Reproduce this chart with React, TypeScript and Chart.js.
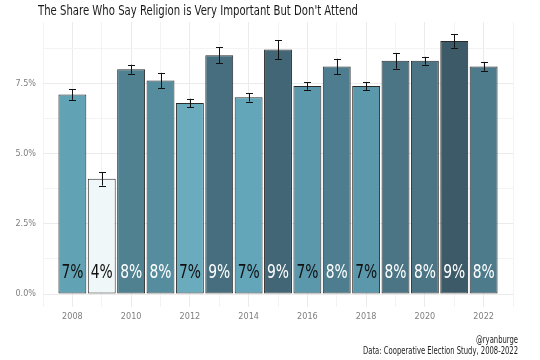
import React, { useEffect, useRef } from "react";
import { Chart, registerables } from "chart.js";

Chart.register(...registerables);

const years = [2008, 2009, 2010, 2011, 2012, 2013, 2014, 2015, 2016, 2017, 2018, 2019, 2020, 2021, 2022];
const shares = [7.1, 4.1, 8.0, 7.6, 6.8, 8.5, 7.0, 8.7, 7.4, 8.1, 7.4, 8.3, 8.3, 9.0, 8.1];
const errors = [0.19, 0.24, 0.16, 0.27, 0.15, 0.28, 0.15, 0.34, 0.13, 0.27, 0.14, 0.28, 0.14, 0.24, 0.16];
const yTickLabels = ["0.0%", "2.5%", "5.0%", "7.5%"];
const titleText = "The Share Who Say Religion is Very Important But Don't Attend";
const captionLines = ["@ryanburge", "Data: Cooperative Election Study, 2008-2022"];

const barColors = [
  "#62a2b5", "#eff7f9", "#4f8191", "#568d9e", "#6aabbd", "#476e7f", "#64a6b9", "#436676",
  "#5b98ab", "#4d7d8e", "#5b98ab", "#4b7585", "#4b7585", "#3d5a69", "#4d7b8c",
];
const labelColors = shares.map((v) => (Math.round(v) >= 8 ? "#ffffff" : "#111111"));

const FONT = '"DejaVu Sans Condensed", "Roboto", sans-serif';

const overlayPlugin = {
  id: "overlay",
  afterDatasetsDraw(chart: any) {
    const { ctx, scales } = chart;
    const xs = scales.x;
    const ys = scales.y;
    ctx.save();
    ctx.strokeStyle = "#111111";
    ctx.lineWidth = 1;
    years.forEach((yr, i) => {
      const x = Math.round(xs.getPixelForValue(yr)) + 0.5;
      const y1 = ys.getPixelForValue(shares[i] + errors[i]);
      const y2 = ys.getPixelForValue(shares[i] - errors[i]);
      ctx.beginPath();
      ctx.moveTo(x, y1);
      ctx.lineTo(x, y2);
      ctx.moveTo(x - 3.5, Math.round(y1) + 0.5);
      ctx.lineTo(x + 3.5, Math.round(y1) + 0.5);
      ctx.moveTo(x - 3.5, Math.round(y2) + 0.5);
      ctx.lineTo(x + 3.5, Math.round(y2) + 0.5);
      ctx.stroke();
    });
    ctx.font = `19px ${FONT}`;
    ctx.textAlign = "center";
    ctx.textBaseline = "middle";
    years.forEach((yr, i) => {
      const x = xs.getPixelForValue(yr);
      ctx.fillStyle = labelColors[i];
      ctx.fillText(`${Math.round(shares[i])}%`, x, ys.getPixelForValue(0) - 21, 22);
    });
    ctx.restore();
  },
  afterDraw(chart: any) {
    const { ctx, width } = chart;
    ctx.save();
    ctx.fillStyle = "#1a1a1a";
    ctx.font = `14px ${FONT}`;
    ctx.textAlign = "left";
    ctx.textBaseline = "middle";
    ctx.fillText(titleText, 38, 11, 320);
    ctx.font = `10px ${FONT}`;
    ctx.textAlign = "right";
    ctx.fillStyle = "#222222";
    ctx.fillText(captionLines[0], width - 22, 340, 42);
    ctx.fillText(captionLines[1], width - 22, 351, 155);
    ctx.restore();
  },
};

export default function App() {
  const ref = useRef<HTMLCanvasElement>(null);
  useEffect(() => {
    if (!ref.current) return;
    const chart = new Chart(ref.current, {
      type: "bar",
      data: {
        datasets: [
          {
            data: years.map((yr, i) => ({ x: yr, y: shares[i] })),
            backgroundColor: barColors,
            borderColor: "#2a2a2a",
            borderWidth: 1,
            borderSkipped: false,
            categoryPercentage: 1,
            barPercentage: 0.95,
          },
        ],
      },
      options: {
        animation: false,
        responsive: false,
        maintainAspectRatio: false,
        layout: { padding: { top: 22, right: 27, bottom: 0, left: 0 } },
        plugins: { legend: { display: false }, tooltip: { enabled: false }, title: { display: false } },
        scales: {
          x: {
            type: "linear",
            offset: false,
            min: 2007,
            max: 2023,
            afterFit(scale: any) { scale.height = 53; },
            afterBuildTicks(scale: any) {
              const t = [];
              for (let v = 2007; v <= 2023; v++) t.push({ value: v });
              scale.ticks = t;
            },
            ticks: {
              autoSkip: false,
              maxRotation: 0,
              padding: 4,
              color: "#7f7f7f",
              font: { family: FONT, size: 9 },
              callback: (v: any) => (v % 2 === 0 && v >= 2008 && v <= 2022 ? String(v) : ""),
            },
            grid: {
              offset: false,
              drawTicks: false,
              color: (c: any) => (c.tick && c.tick.value % 2 === 0 ? "#ebebeb" : "#f3f3f3"),
              lineWidth: 1,
            },
            border: { display: false },
          },
          y: {
            min: -0.46,
            max: 9.68,
            afterFit(scale: any) { scale.width = 43; },
            afterBuildTicks(scale: any) {
              const t = [];
              for (let k = 0; k <= 7; k++) t.push({ value: k * 1.25 });
              scale.ticks = t;
            },
            ticks: {
              padding: 7,
              color: "#7f7f7f",
              font: { family: FONT, size: 9 },
              callback: (v: any) => {
                const idx = Math.round(v / 2.5);
                return Math.abs(v - idx * 2.5) < 1e-6 ? yTickLabels[idx] : "";
              },
            },
            grid: {
              drawTicks: false,
              color: (c: any) => {
                const v = c.tick ? c.tick.value : 0;
                return Math.abs(v / 2.5 - Math.round(v / 2.5)) < 1e-6 ? "#ebebeb" : "#f3f3f3";
              },
              lineWidth: 1,
            },
            border: { display: false },
          },
        },
      },
      plugins: [overlayPlugin],
    } as any);
    return () => chart.destroy();
  }, []);
  return (
    <div style={{ position: "fixed", left: 0, top: 0, width: 540, height: 360, background: "#ffffff" }}>
      <canvas ref={ref} width={540} height={360} style={{ width: 540, height: 360 }} />
    </div>
  );
}
